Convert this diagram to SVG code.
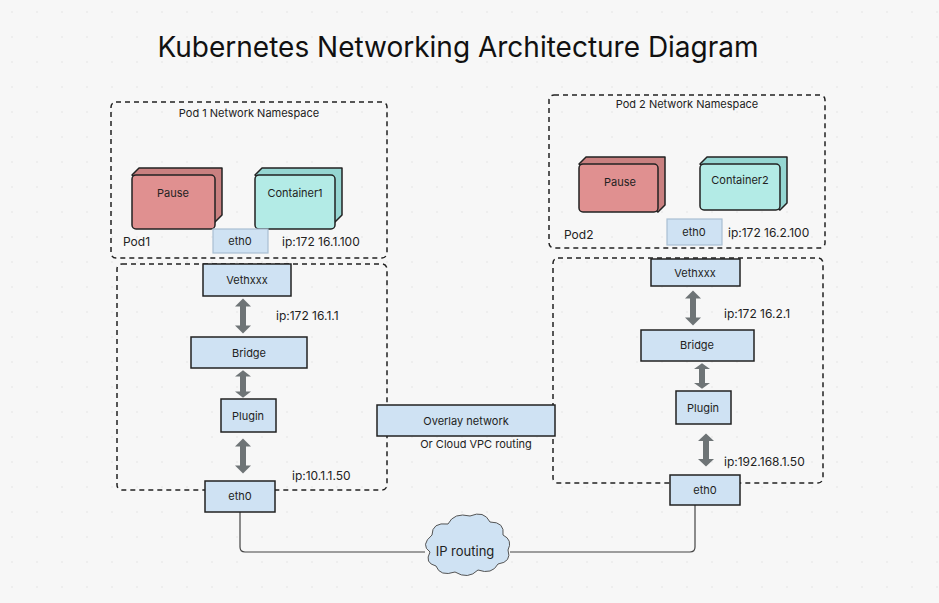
<svg xmlns="http://www.w3.org/2000/svg" width="939" height="603" viewBox="0 0 939 603">
<style>
text{font-family:Inter,"Liberation Sans",sans-serif;fill:#222}
.ns{fill:none;stroke:#222;stroke-width:1.5;stroke-dasharray:5,4}
.b{fill:#cfe2f3;stroke:#222;stroke-width:1.5}
.e{fill:#cfe2f3;stroke:#a9bfd3;stroke-width:1.2}
.t{font-size:11px;text-anchor:middle}
.l{font-size:12px}
.ar{fill:#6e7476}
.ln{fill:none;stroke:#444;stroke-width:1.2}
</style>
<defs>
<pattern id="dots" width="25" height="25" patternUnits="userSpaceOnUse"><circle cx="12" cy="12" r="0.7" fill="#dedede"/></pattern>
<path id="da" d="M0,-22 L8,-12 L3,-12 L3,12 L8,12 L0,22 L-8,12 L-3,12 L-3,-12 L-8,-12 Z"/>
</defs>
<rect width="939" height="603" fill="#f7f7f7"/>
<rect width="939" height="603" fill="url(#dots)"/>
<text x="458" y="57" font-size="28" text-anchor="middle" style="fill:#111">Kubernetes Networking Architecture Diagram</text>

<g id="pod1ns"><rect class="ns" x="111" y="102" width="276" height="156" rx="5"/><text class="t" x="249" y="117">Pod 1 Network Namespace</text><text class="l" x="123" y="246">Pod1</text><text class="l" x="282" y="246">ip:172 16.1.100</text></g>
<g id="pod2ns"><rect class="ns" x="549" y="95" width="276" height="153" rx="5"/><text class="t" x="687" y="108">Pod 2 Network Namespace</text><text class="l" x="564" y="239">Pod2</text><text class="l" x="728" y="237">ip:172 16.2.100</text></g>
<g id="host1"><rect class="ns" x="117" y="264" width="270" height="226" rx="5"/><text class="l" x="276" y="320">ip:172 16.1.1</text><text class="l" x="292" y="480">ip:10.1.1.50</text></g>
<g id="host2"><rect class="ns" x="553" y="258" width="270" height="225" rx="5"/><text class="l" x="724" y="318">ip:172 16.2.1</text><text class="l" x="724" y="466">ip:192.168.1.50</text></g>

<g id="pause1"><path d="M132,175 L139,168 L222,168 L222,215 L215,222 Z" fill="#c98080" stroke="#222" stroke-width="1.5" stroke-linejoin="round"/><rect x="132" y="175" width="83" height="54" rx="4" fill="#e09090" stroke="#222" stroke-width="1.5"/><text class="t" x="173" y="197">Pause</text></g>
<g id="container1"><path d="M255,175 L262,168 L342,168 L342,215 L335,222 Z" fill="#95d6d2" stroke="#222" stroke-width="1.5" stroke-linejoin="round"/><rect x="255" y="175" width="80" height="54" rx="4" fill="#b3ebe6" stroke="#222" stroke-width="1.5"/><text class="t" x="295" y="197">Container1</text></g>
<g id="eth0p1"><rect class="e" x="213" y="229" width="55" height="24"/><text class="t" x="240" y="245">eth0</text></g>
<g id="pause2"><path d="M579,164 L586,157 L665,157 L665,205 L658,212 Z" fill="#c98080" stroke="#222" stroke-width="1.5" stroke-linejoin="round"/><rect x="579" y="164" width="79" height="48" rx="4" fill="#e09090" stroke="#222" stroke-width="1.5"/><text class="t" x="620" y="186">Pause</text></g>
<g id="container2"><path d="M700,164 L707,157 L787,157 L787,203 L780,210 Z" fill="#95d6d2" stroke="#222" stroke-width="1.5" stroke-linejoin="round"/><rect x="700" y="164" width="80" height="46" rx="4" fill="#b3ebe6" stroke="#222" stroke-width="1.5"/><text class="t" x="740" y="184">Container2</text></g>
<g id="eth0p2"><rect class="e" x="667" y="219" width="55" height="26"/><text class="t" x="694" y="236">eth0</text></g>

<g id="connectors">
<use href="#da" class="ar" transform="translate(243,316) scale(1,0.8)"/>
<use href="#da" class="ar" transform="translate(243,384) scale(1,0.62)"/>
<use href="#da" class="ar" transform="translate(243,456) scale(1,0.8)"/>
<use href="#da" class="ar" transform="translate(693,308) scale(1,0.8)"/>
<use href="#da" class="ar" transform="translate(702,376) scale(1,0.58)"/>
<use href="#da" class="ar" transform="translate(706,450) scale(1,0.75)"/>
<path class="ln" d="M240,512 V547 Q240,552 245,552 H425"/>
<path class="ln" d="M510,552 H690 Q695,552 695,547 V505"/>
</g>

<g id="veth1"><rect class="b" x="203" y="264" width="88" height="32"/><text class="t" x="247" y="284">Vethxxx</text></g>
<g id="bridge1"><rect class="b" x="191" y="337" width="116" height="31"/><text class="t" x="249" y="357">Bridge</text></g>
<g id="plugin1"><rect class="b" x="221" y="399" width="55" height="33"/><text class="t" x="248" y="420">Plugin</text></g>
<g id="eth01"><rect class="b" x="205" y="481" width="70" height="31"/><text class="t" x="240" y="500">eth0</text></g>
<g id="veth2"><rect class="b" x="651" y="259" width="89" height="27"/><text class="t" x="695" y="277">Vethxxx</text></g>
<g id="bridge2"><rect class="b" x="641" y="330" width="113" height="31"/><text class="t" x="697" y="349">Bridge</text></g>
<g id="plugin2"><rect class="b" x="676" y="391" width="55" height="33"/><text class="t" x="703" y="412">Plugin</text></g>
<g id="eth02"><rect class="b" x="670" y="475" width="70" height="30"/><text class="t" x="705" y="494">eth0</text></g>
<g id="overlay"><rect class="b" x="377" y="405" width="178" height="31"/><text class="t" x="466" y="425">Overlay network</text><text class="t" x="476" y="448" font-size="10">Or Cloud VPC routing</text></g>
<g id="cloud"><path d="M432,535 Q432,522 448,524 Q454,512 470,516 Q484,510 490,522 Q505,522 503,535 Q513,540 508,550 Q512,562 498,564 Q492,575 478,570 Q468,580 455,572 Q440,577 436,566 Q424,563 430,552 Q420,545 432,535 Z" fill="#cfe2f3" stroke="#555" stroke-width="1"/><text x="465" y="556" font-size="13" text-anchor="middle">IP routing</text></g>
</svg>
